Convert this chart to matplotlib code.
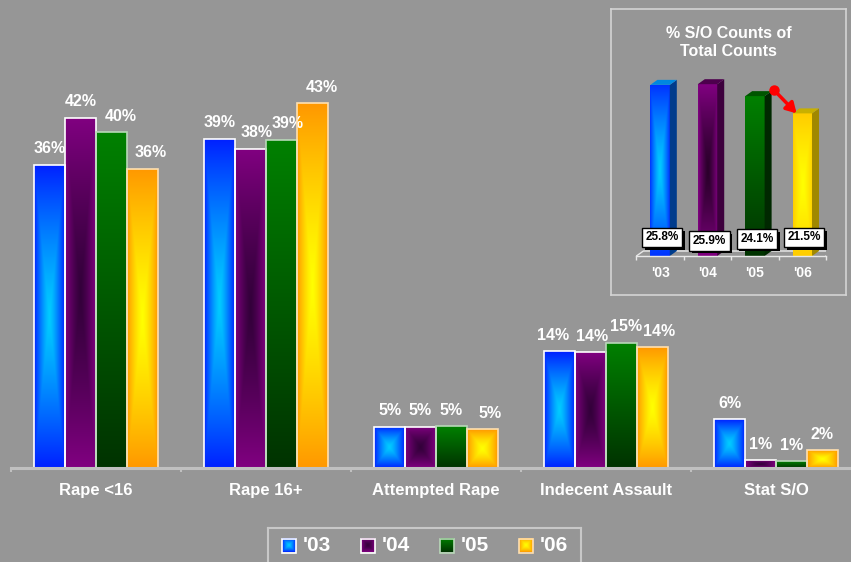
import numpy as np
import matplotlib
matplotlib.use("Agg")
import matplotlib.pyplot as plt
import matplotlib.patheffects as pe
from matplotlib.patches import Rectangle, Polygon
from matplotlib.colors import to_rgb

plt.rcParams["font.family"] = ["Liberation Sans", "DejaVu Sans"]
plt.rcParams["font.weight"] = "bold"

# data
categories = ["Rape <16", "Rape 16+", "Attempted Rape", "Indecent Assault", "Stat S/O"]
years = ["'03", "'04", "'05", "'06"]
pct_03 = [36.1, 39.2, 4.9, 13.9, 5.8]
pct_04 = [41.7, 38.0, 4.9, 13.8, 0.9]
pct_05 = [40.0, 39.1, 5.0, 14.9, 0.8]
pct_06 = [35.6, 43.4, 4.6, 14.4, 2.1]
so_share = [25.8, 25.9, 24.1, 21.5]

BG = "#969696"
AXIS = "#c0c0c0"

# fill styles: (kind, colour a, colour b); rect = centre->edge, vert = bottom->top
fills = [("rect", "#00ccff", "#0022ff"),
         ("rect", "#33003a", "#800080"),
         ("vert", "#003300", "#008000"),
         ("rect", "#ffff00", "#ff9900")]
edges = ["white", "white", "#b8d8b8", "#ffe0b0"]
# small sideways shifts (px) of value labels, as in the original slide
label_nudge = [[0, 0, 0, -7, 0], [0, 6, 0, 2, 0], [9, 6, 0, 5, 0], [8, 9, 8, 7, 0]]


def gradient(style, n=80):
    kind, a, b = style
    a = np.array(to_rgb(a))
    b = np.array(to_rgb(b))
    u = np.linspace(-1, 1, n)
    X, Y = np.meshgrid(u, u)
    if kind == "rect":
        t = np.maximum(abs(X), abs(Y)) ** 1.3
    else:
        t = (Y + 1) / 2
    return a + (b - a) * t[..., None]


def fill_bar(ax, patch, style, z):
    x0, y0 = patch.get_x(), patch.get_y()
    w, h = patch.get_width(), patch.get_height()
    im = ax.imshow(gradient(style), extent=[x0, x0 + w, y0, y0 + h], origin="lower",
                   aspect="auto", zorder=z, interpolation="bilinear")
    im.set_clip_path(patch)


fig = plt.figure(figsize=(8.51, 5.62), dpi=100, facecolor=BG)

# ---- main chart ----
ax = fig.add_axes([11 / 851, 94 / 562, 850 / 851, 462 / 562])
ax.set_facecolor("none")
x = np.arange(len(categories))
width = 0.182
series = [pct_03, pct_04, pct_05, pct_06]
for i, vals in enumerate(series):
    xs = x + (i - 1.5) * width
    bars = ax.bar(xs, vals, width, facecolor="none", edgecolor=edges[i], linewidth=1.2, zorder=3)
    for b in bars:
        fill_bar(ax, b, fills[i], 2)
    for xi, v, nd in zip(xs, vals, label_nudge[i]):
        ax.annotate(f"{round(v)}%", (xi, v), xytext=(nd * 0.72, 11.5), textcoords="offset points",
                    ha="center", va="center", color="white", fontsize=11.5, fontweight="bold")
ax.set_xlim(-0.5, 4.5)
ax.set_ylim(0, 55)
for s in ["top", "left", "right"]:
    ax.spines[s].set_visible(False)
ax.spines["bottom"].set_color(AXIS)
ax.spines["bottom"].set_linewidth(2.2)
ax.spines["bottom"].set_zorder(4)
ax.set_xticks(x, categories)
ax.set_xticks(np.arange(-0.5, 5, 1), minor=True)
ax.tick_params(axis="x", which="major", length=0, pad=10.5, labelsize=12, labelcolor="white")
ax.tick_params(axis="x", which="minor", length=3, width=1.5, color=AXIS)
ax.set_yticks([])

# ---- inset ----
fr = fig.add_axes([611 / 851, 267 / 562, 235 / 851, 286 / 562], zorder=5)
fr.set_facecolor(BG)
fr.set_xticks([])
fr.set_yticks([])
for s in fr.spines.values():
    s.set_color("#d4d4d4")
    s.set_linewidth(1.2)
fr.text(0.5, 0.883, "% S/O Counts of\nTotal Counts", transform=fr.transAxes, ha="center", va="center",
        fontsize=11.5, color="white", fontweight="bold", linespacing=1.25)

ia = fig.add_axes([636.4 / 851, 306 / 562, 189.6 / 851, 199 / 562], zorder=6)
ia.set_facecolor("none")
inset_fills = [("rect", "#00ccff", "#0033ff"),
               ("rect", "#2a002a", "#800080"),
               ("vert", "#003300", "#008000"),
               ("rect", "#ffff00", "#ffcc00")]
sides = ["#003c8c", "#3d003d", "#002800", "#a08800"]
tops = ["#0088e0", "#4d004d", "#005500", "#c8b000"]
dx, dy = 7 / 47.4, 5 / 6.633
iw = 0.41
ibars = ia.bar(range(len(years)), so_share, iw, facecolor="none", edgecolor="none", zorder=3)
for b, st, sc, tc in zip(ibars, inset_fills, sides, tops):
    fill_bar(ia, b, st, 2)
    x0, x1, h = b.get_x(), b.get_x() + b.get_width(), b.get_height()
    ia.add_patch(Polygon([(x1, 0), (x1 + dx, dy), (x1 + dx, h + dy), (x1, h)], closed=True,
                         facecolor=sc, edgecolor="none", zorder=2))
    ia.add_patch(Polygon([(x0, h), (x0 + dx, h + dy), (x1 + dx, h + dy), (x1, h)], closed=True,
                         facecolor=tc, edgecolor="none", zorder=2))
# floor
ia.plot([-0.5, -0.5 + dx, 3.5 + dx, 3.5], [0, dy, dy, 0], color="#e8e8e8", lw=1, zorder=1)

box_y = [18.5, 15, 17, 18.5]
for i, v in enumerate(so_share):
    t = ia.annotate(f"{v:.1f}%", (i, 0), xytext=(1.4, box_y[i] * 0.72), textcoords="offset points",
                    ha="center", va="center", fontsize=8.5, color="black", fontweight="bold", zorder=8,
                    bbox=dict(boxstyle="square,pad=0.3", fc="white", ec="black", lw=1))
    t.get_bbox_patch().set_path_effects([pe.SimplePatchShadow(offset=(2, -2), shadow_rgbFace="black", alpha=1),
                                         pe.Normal()])

# red arrow from '05 to '06
start = (2 + iw / 2 + 0.2, so_share[2] + 0.9)
ia.annotate("", xy=(3 - 0.12, so_share[3]), xytext=start,
            arrowprops=dict(arrowstyle="-|>,head_length=0.6,head_width=0.35", color="red", lw=2.5,
                            shrinkA=0, shrinkB=0), zorder=9)
ia.plot(*start, "o", color="red", ms=6.5, zorder=9)

ia.set_xlim(-0.5, 3.5)
ia.set_ylim(0, 30)
for s in ["top", "left", "right"]:
    ia.spines[s].set_visible(False)
ia.spines["bottom"].set_color("#e8e8e8")
ia.spines["bottom"].set_linewidth(1)
ia.set_xticks(range(len(years)), years)
ia.set_xticks(np.arange(-0.5, 4, 1), minor=True)
ia.tick_params(axis="x", which="major", length=0, pad=7.5, labelsize=10, labelcolor="white")
ia.tick_params(axis="x", which="minor", length=3, width=1, color="#e8e8e8")
ia.set_yticks([])

# ---- legend ----
lg = fig.add_axes([268 / 851, -4 / 562, 313 / 851, 38 / 562], zorder=5)
lg.set_facecolor(BG)
lg.set_xticks([])
lg.set_yticks([])
for s in lg.spines.values():
    s.set_color("#c8c8c8")
    s.set_linewidth(1.5)
for i, yr in enumerate(years):
    x0 = 282 + 79 * i
    lg.imshow(gradient(fills[i]), extent=[x0, x0 + 14, 552.5, 538.5], origin="lower", aspect="auto")
    lg.add_patch(Rectangle((x0, 538.5), 14, 14, fill=False, ec=edges[i], lw=1.2))
    lg.text(x0 + 21, 545.5, yr, va="center", ha="left", fontsize=15, color="white", fontweight="bold")
lg.set_xlim(268, 581)
lg.set_ylim(566, 528)

fig.savefig("out.png", dpi=100, facecolor=fig.get_facecolor())
